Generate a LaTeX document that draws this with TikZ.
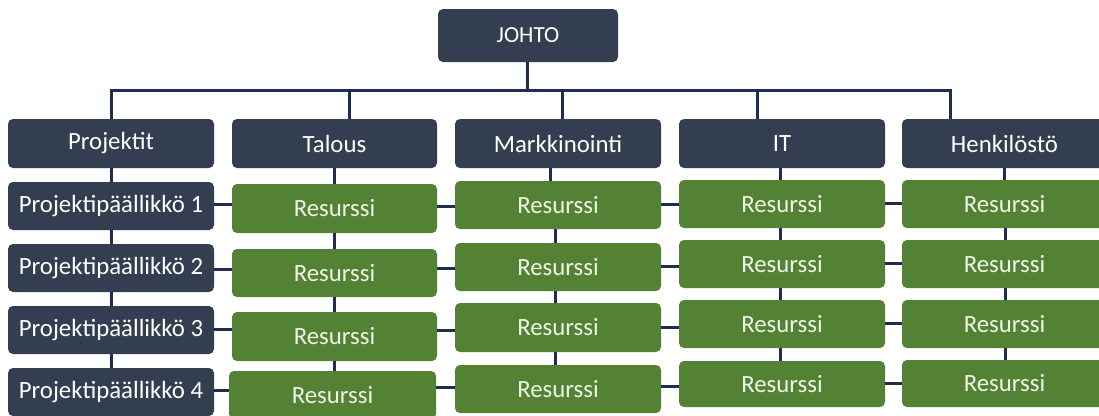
\documentclass[tikz,border=0pt]{standalone}
\usepackage{fontspec}
\setmainfont{Carlito}
\definecolor{navybox}{HTML}{333F50}
\definecolor{greenbox}{HTML}{548235}
\definecolor{linkcol}{HTML}{1F2D55}
\definecolor{greentext}{HTML}{EEF6E6}
\tikzset{
  orgnode/.style={rounded corners=5pt, inner sep=0pt, align=center,
    font=\fontsize{24.8}{28}\selectfont},
  darkbox/.style={orgnode, fill=navybox, text=white},
  greenres/.style={orgnode, fill=greenbox, text=greentext},
  topbox/.style={darkbox, font=\fontsize{23}{26}\selectfont},
  link/.style={draw=linkcol, line width=3pt, line join=miter}
}
% \orgbox{name}{x1}{y1}{x2}{y2}{style}{text}: box given by its corners (pixel units)
\newcommand\orgbox[7]{%
  \node[#6, minimum width={(#4-#2)*1pt}, minimum height={(#5-#3)*1pt}]
    (#1) at ({(#2+#4)/2},{(#3+#5)/2}) {#7};}
\begin{document}
\begin{tikzpicture}[x=1pt,y=-1pt]
\useasboundingbox (0,0) rectangle (1099,415);
\fill[white] (0,0) rectangle (1099,415);
\clip (0,0) rectangle (1099,415);

% management
\orgbox{J}{438}{9}{618}{62}{topbox}{JOHTO}

% departments
\orgbox{A0}{8}{119}{214}{168}{darkbox}{Projektit}
\orgbox{B0}{232}{119}{437}{168}{darkbox}{Talous}
\orgbox{C0}{455}{119}{661}{168}{darkbox}{Markkinointi}
\orgbox{D0}{679}{119}{885}{168}{darkbox}{IT}
\orgbox{E0}{902}{119}{1107}{168}{darkbox}{Henkilöstö}

% project managers
\orgbox{A1}{8}{182}{214}{230}{darkbox}{Projektipäällikkö 1}
\orgbox{A2}{8}{244}{214}{292}{darkbox}{Projektipäällikkö 2}
\orgbox{A3}{8}{306}{214}{354}{darkbox}{Projektipäällikkö 3}
\orgbox{A4}{8}{368}{214}{416}{darkbox}{Projektipäällikkö 4}

% resources
\orgbox{B1}{232}{184}{437}{233}{greenres}{Resurssi}
\orgbox{B2}{232}{249}{437}{297}{greenres}{Resurssi}
\orgbox{B3}{232}{312}{437}{361}{greenres}{Resurssi}
\orgbox{B4}{229}{371}{436}{419}{greenres}{Resurssi}

\orgbox{C1}{455}{181}{661}{229}{greenres}{Resurssi}
\orgbox{C2}{455}{243}{661}{291}{greenres}{Resurssi}
\orgbox{C3}{455}{303}{661}{352}{greenres}{Resurssi}
\orgbox{C4}{455}{365}{661}{413}{greenres}{Resurssi}

\orgbox{D1}{679}{180}{885}{228}{greenres}{Resurssi}
\orgbox{D2}{679}{240}{885}{288}{greenres}{Resurssi}
\orgbox{D3}{679}{300}{885}{348}{greenres}{Resurssi}
\orgbox{D4}{679}{361}{885}{407}{greenres}{Resurssi}

\orgbox{E1}{902}{180}{1107}{228}{greenres}{Resurssi}
\orgbox{E2}{902}{240}{1107}{288}{greenres}{Resurssi}
\orgbox{E3}{902}{300}{1107}{348}{greenres}{Resurssi}
\orgbox{E4}{902}{360}{1107}{407}{greenres}{Resurssi}

% bus from management to departments
\coordinate (busJ) at (527,90);
\coordinate (busA) at (111,90);
\coordinate (busB) at (349,90);
\coordinate (busC) at (562,90);
\coordinate (busD) at (757,90);
\coordinate (busE) at (950,90);
\draw[link] (J.south -| busJ) -- (busJ);
\draw[link] (A0.north -| busA) -- (busA) -- (busE) -- (E0.north -| busE);
\foreach \col in {B,C,D}
  \draw[link] (\col0.north -| bus\col) -- (bus\col);

% vertical links inside each column
\foreach \col/\xs/\xr in {A/111/111, B/334/334, C/550/555, D/780/780, E/1004/1005} {
  \draw[link] (\col0.south -| \xs,0) -- (\col1.north -| \xs,0);
  \draw[link] (\col1.south -| \xr,0) -- (\col2.north -| \xr,0);
  \draw[link] (\col2.south -| \xr,0) -- (\col3.north -| \xr,0);
  \draw[link] (\col3.south -| \xr,0) -- (\col4.north -| \xr,0);
}

% horizontal links between neighbouring columns
\foreach \lft/\rgt/\ya/\yb/\yc/\yd in {A/B/204/269/329/390, B/C/206/268/330/387,
    C/D/204/266/327/386, D/E/203/263/323/383} {
  \draw[link] (\lft1.east |- 0,\ya) -- (\rgt1.west |- 0,\ya);
  \draw[link] (\lft2.east |- 0,\yb) -- (\rgt2.west |- 0,\yb);
  \draw[link] (\lft3.east |- 0,\yc) -- (\rgt3.west |- 0,\yc);
  \draw[link] (\lft4.east |- 0,\yd) -- (\rgt4.west |- 0,\yd);
}
\end{tikzpicture}
\end{document}
